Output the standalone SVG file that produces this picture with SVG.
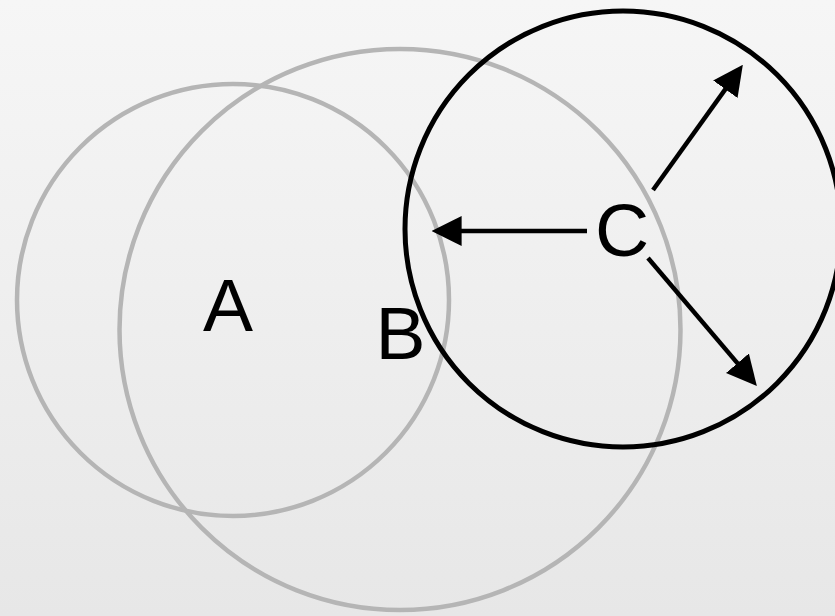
<svg xmlns="http://www.w3.org/2000/svg" width="835" height="616" viewBox="0 0 835 616">
  <defs>
    <linearGradient id="bg" x1="0" y1="0" x2="0" y2="1">
      <stop offset="0" stop-color="#f6f6f6"/>
      <stop offset="1" stop-color="#e7e7e7"/>
    </linearGradient>
    <marker id="arrow" markerUnits="userSpaceOnUse" markerWidth="30" markerHeight="30" refX="18" refY="14.5" orient="auto" viewBox="0 0 29 29">
      <path d="M0,0 L29,14.5 L0,29 Z" fill="#000"/>
    </marker>
    <style>
      .grey { fill: none; stroke: #b5b5b5; stroke-width: 4.5; }
      .black { fill: none; stroke: #000; stroke-width: 5; }
      .conn { stroke: #000; stroke-width: 4.5; fill: none; marker-end: url(#arrow); }
      .lbl { font-family: "Liberation Sans", Arial, sans-serif; font-size: 75px; fill: #000; text-anchor: middle; }
    </style>
  </defs>
  <rect width="835" height="616" fill="url(#bg)"/>
  <g id="A">
    <circle class="grey" cx="233" cy="300" r="216"/>
    <text class="lbl" x="228" y="331">A</text>
  </g>
  <g id="B">
    <circle class="grey" cx="400" cy="329.5" r="280.5"/>
    <text class="lbl" x="400.5" y="359">B</text>
  </g>
  <g id="C">
    <circle class="black" cx="623" cy="229" r="218"/>
    <text class="lbl" x="622" y="256">C</text>
  </g>
  <g id="connectors">
    <line class="conn" x1="587" y1="231" x2="443" y2="231"/>
    <line class="conn" x1="653" y1="190" x2="736.2" y2="74.1"/>
    <line class="conn" x1="648" y1="258" x2="749.5" y2="377.4"/>
  </g>
</svg>
